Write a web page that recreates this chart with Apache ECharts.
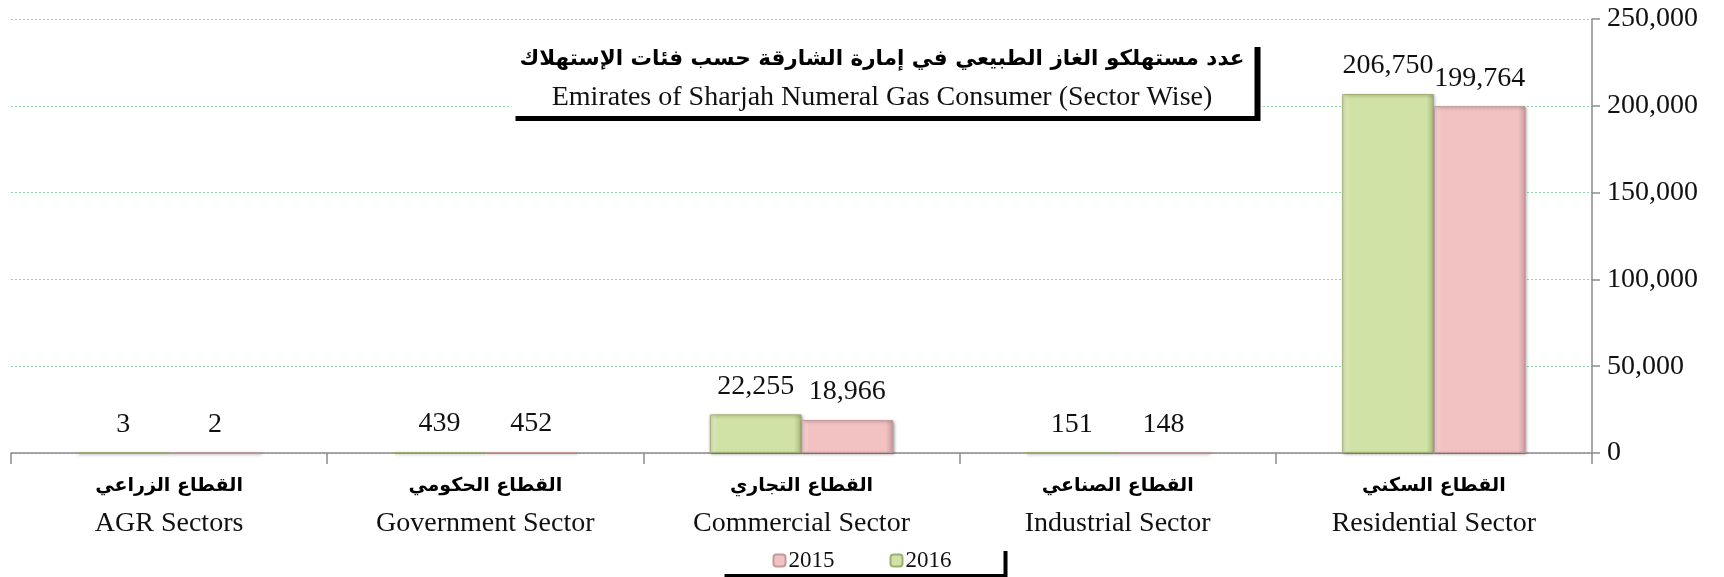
<!DOCTYPE html>
<html>
<head>
<meta charset="utf-8">
<script src="https://cdn.jsdelivr.net/npm/echarts@6/dist/echarts.min.js"></script>
<style>
  html, body { margin: 0; padding: 0; background: #fff; }
  #main { width: 1724px; height: 577px; }
</style>
</head>
<body>
<div id="main"></div>
<script>
// categories (left to right)
const sectorsAr = ['القطاع الزراعي', 'القطاع الحكومي', 'القطاع التجاري', 'القطاع الصناعي', 'القطاع السكني']
const sectorsEn = ['AGR Sectors', 'Government Sector', 'Commercial Sector', 'Industrial Sector', 'Residential Sector']
// consumers per year
const values2016 = [3, 439, 22255, 151, 206750]
const values2015 = [2, 452, 18966, 148, 199764]
const years = ['2015', '2016']
const titleAr = 'عدد مستهلكو الغاز الطبيعي في إمارة الشارقة حسب فئات الإستهلاك'
const titleEn = 'Emirates of Sharjah Numeral Gas Consumer (Sector Wise)'

const serif = "'Liberation Serif', 'Times New Roman', serif"
const arabic = "'DejaVu Sans', sans-serif"

function fmt (v) {
  return String(v).replace(/\B(?=(\d{3})+(?!\d))/g, ',')
}

function barStyle (fill, light, dark, border) {
  return {
    color: {
      type: 'linear', x: 0, y: 0, x2: 1, y2: 0,
      colorStops: [
        { offset: 0, color: light },
        { offset: 0.08, color: fill },
        { offset: 0.92, color: fill },
        { offset: 1, color: dark }
      ]
    },
    borderColor: border,
    borderWidth: 1,
    shadowColor: 'rgba(0,0,0,0.35)',
    shadowBlur: 3,
    shadowOffsetX: 1,
    shadowOffsetY: 1
  }
}

const labelStyle = {
  show: true,
  position: 'top',
  distance: 14,
  color: '#111',
  fontFamily: serif,
  fontSize: 28,
  formatter: p => fmt(p.value)
}

let myChart = echarts.init(document.getElementById('main'))
myChart.setOption({
  animation: false,
  backgroundColor: '#fff',
  title: {
    text: titleAr,
    subtext: titleEn,
    left: 872,
    top: 42,
    textAlign: 'center',
    padding: [6, 10, 4, 10],
    itemGap: 14,
    backgroundColor: '#fff',
    shadowColor: '#000',
    shadowBlur: 0,
    shadowOffsetX: 6,
    shadowOffsetY: 5,
    textStyle: {
      fontFamily: arabic,
      fontSize: 21.5,
      fontWeight: 'bold',
      color: '#000'
    },
    subtextStyle: {
      fontFamily: serif,
      fontSize: 28,
      color: '#111'
    }
  },
  legend: {
    data: years,
    left: 'center',
    bottom: 3,
    itemWidth: 12,
    itemHeight: 12,
    itemGap: 55,
    padding: [2, 52, 2, 52],
    backgroundColor: '#fff',
    shadowColor: '#000',
    shadowBlur: 0,
    shadowOffsetX: 4,
    shadowOffsetY: 4,
    textStyle: {
      fontFamily: serif,
      fontSize: 23,
      color: '#111',
      padding: [0, 0, 0, -2]
    }
  },
  grid: {
    left: 11,
    right: 132,
    top: 19,
    bottom: 124,
    containLabel: false
  },
  xAxis: {
    type: 'category',
    data: sectorsEn,
    axisLine: { lineStyle: { color: '#8c8c8c', width: 1.5 } },
    axisTick: { show: true, length: 11, lineStyle: { color: '#8c8c8c', width: 1.5 } },
    axisLabel: {
      interval: 0,
      margin: 15,
      formatter: (v, i) => '{ar|' + sectorsAr[i] + '}\n{en|' + v + '}',
      rich: {
        ar: { fontFamily: arabic, fontSize: 19, fontWeight: 'bold', lineHeight: 37, color: '#000' },
        en: { fontFamily: serif, fontSize: 28, lineHeight: 37, color: '#111' }
      }
    }
  },
  yAxis: {
    type: 'value',
    position: 'right',
    min: 0,
    max: 250000,
    interval: 50000,
    axisLine: { show: true, lineStyle: { color: '#8c8c8c', width: 1.5 } },
    axisTick: { show: true, length: 8, lineStyle: { color: '#8c8c8c', width: 1.5 } },
    axisLabel: {
      margin: 15,
      color: '#111',
      fontFamily: serif,
      fontSize: 28,
      formatter: v => fmt(v)
    },
    splitLine: {
      show: true,
      lineStyle: { color: '#8fd4a8', type: [2, 2], width: 1 }
    }
  },
  series: [
    {
      name: '2016',
      type: 'bar',
      data: values2016,
      barGap: '0%',
      barCategoryGap: '42%',
      itemStyle: barStyle('#d1e2a6', '#e6f0c8', '#a9b87e', '#9fae74'),
      label: labelStyle
    },
    {
      name: '2015',
      type: 'bar',
      data: values2015,
      itemStyle: barStyle('#f2c2c3', '#f9dcdc', '#c99c9d', '#c49a9a'),
      label: labelStyle
    }
  ]
})
</script>
</body>
</html>
